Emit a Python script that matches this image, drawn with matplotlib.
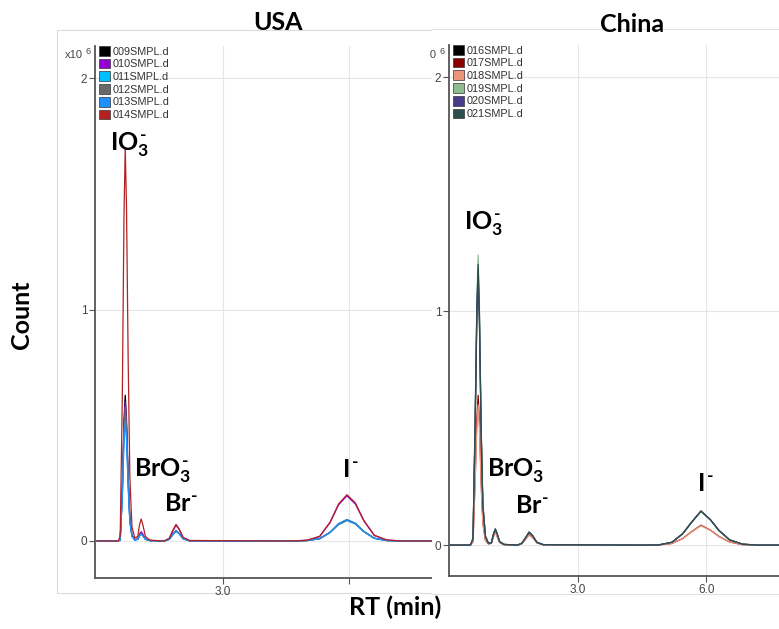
import matplotlib
matplotlib.use("Agg")
import matplotlib.pyplot as plt
from matplotlib.patches import Patch, Rectangle
from matplotlib.lines import Line2D
from matplotlib.transforms import Bbox, TransformedBbox

plt.rcParams['mathtext.fontset'] = 'custom'
plt.rcParams['mathtext.rm'] = 'Lato:bold'
plt.rcParams['mathtext.bf'] = 'Lato:bold'
plt.rcParams['mathtext.it'] = 'Lato:bold'
plt.rcParams['font.family'] = ['Liberation Sans', 'DejaVu Sans']

# ***** USA samples (counts in x10^6) *****#
rt_usa = [0.00, 0.50, 0.55, 0.60, 0.64, 0.67, 0.70, 0.74, 0.78, 0.83, 0.90, 0.97, 1.01, 1.05,
          1.09, 1.15, 1.25, 1.60, 1.72, 1.80, 1.88, 1.96, 2.05, 2.20, 4.60, 5.00, 5.30, 5.55,
          5.75, 5.95, 6.15, 6.35, 6.60, 6.90, 7.30, 8.00]
usa_names = ['009SMPL.d', '010SMPL.d', '011SMPL.d', '012SMPL.d', '013SMPL.d', '014SMPL.d']
usa_colors = ['#000000', '#9400D3', '#00BFFF', '#696969', '#1E90FF', '#B22222']
s009 = [0, 0, 0.005, 0.22, 0.52, 0.63, 0.53, 0.28, 0.10, 0.025, 0.005, 0.008, 0.025, 0.035, 0.025, 0.008,
        0.002, 0, 0.008, 0.028, 0.045, 0.032, 0.010, 0.001, 0, 0.002, 0.010, 0.038, 0.074, 0.092, 0.076,
        0.042, 0.012, 0.002, 0, 0]
s010 = [0, 0, 0.005, 0.21, 0.50, 0.60, 0.50, 0.27, 0.09, 0.022, 0.005, 0.009, 0.030, 0.040, 0.030, 0.009,
        0.002, 0, 0.011, 0.042, 0.068, 0.048, 0.014, 0.002, 0, 0.003, 0.019, 0.080, 0.156, 0.195, 0.160,
        0.088, 0.024, 0.004, 0, 0]
s011 = [0, 0, 0.004, 0.19, 0.45, 0.55, 0.46, 0.24, 0.085, 0.020, 0.004, 0.007, 0.022, 0.030, 0.022, 0.007,
        0.002, 0, 0.007, 0.026, 0.042, 0.030, 0.009, 0.001, 0, 0.002, 0.009, 0.036, 0.070, 0.088, 0.073,
        0.040, 0.011, 0.002, 0, 0]
s012 = [0, 0, 0.004, 0.20, 0.48, 0.58, 0.49, 0.26, 0.09, 0.022, 0.005, 0.008, 0.024, 0.033, 0.024, 0.008,
        0.002, 0, 0.008, 0.027, 0.044, 0.031, 0.010, 0.001, 0, 0.002, 0.010, 0.037, 0.072, 0.090, 0.075,
        0.041, 0.012, 0.002, 0, 0]
s013 = [0, 0, 0.004, 0.18, 0.43, 0.52, 0.44, 0.23, 0.08, 0.020, 0.004, 0.007, 0.022, 0.030, 0.022, 0.007,
        0.002, 0, 0.007, 0.027, 0.043, 0.030, 0.009, 0.001, 0, 0.002, 0.010, 0.038, 0.075, 0.093, 0.077,
        0.042, 0.012, 0.002, 0, 0]
s014 = [0, 0, 0.020, 0.62, 1.40, 1.70, 1.45, 0.78, 0.28, 0.060, 0.012, 0.020, 0.070, 0.095, 0.070, 0.020,
        0.004, 0, 0.012, 0.045, 0.072, 0.050, 0.015, 0.002, 0, 0.003, 0.020, 0.082, 0.160, 0.200, 0.165,
        0.090, 0.025, 0.004, 0, 0]

# ***** China samples *****#
rt_chn = [0.00, 0.50, 0.56, 0.61, 0.65, 0.68, 0.71, 0.75, 0.79, 0.85, 0.92, 0.99, 1.04, 1.08,
          1.12, 1.18, 1.28, 1.60, 1.70, 1.79, 1.87, 1.95, 2.05, 2.20, 4.50, 4.90, 5.20, 5.45,
          5.65, 5.88, 6.10, 6.30, 6.55, 6.85, 7.20, 7.70]
chn_names = ['016SMPL.d', '017SMPL.d', '018SMPL.d', '019SMPL.d', '020SMPL.d', '021SMPL.d']
chn_colors = ['#000000', '#8B0000', '#E9967A', '#8FBC8F', '#483D8B', '#2F4F4F']
s016 = [0, 0, 0.025, 0.50, 0.97, 1.15, 0.95, 0.48, 0.17, 0.035, 0.008, 0.010, 0.048, 0.068, 0.050, 0.015,
        0.003, 0, 0.008, 0.032, 0.055, 0.040, 0.012, 0.002, 0, 0.001, 0.012, 0.048, 0.095, 0.145, 0.108,
        0.062, 0.022, 0.004, 0, 0]
s017 = [0, 0, 0.015, 0.28, 0.54, 0.64, 0.53, 0.27, 0.095, 0.020, 0.005, 0.008, 0.038, 0.055, 0.040, 0.012,
        0.002, 0, 0.006, 0.026, 0.045, 0.033, 0.010, 0.001, 0, 0.001, 0.007, 0.028, 0.056, 0.085, 0.064,
        0.037, 0.013, 0.002, 0, 0]
s018 = [0, 0, 0.013, 0.26, 0.50, 0.60, 0.50, 0.25, 0.09, 0.019, 0.005, 0.008, 0.037, 0.053, 0.039, 0.012,
        0.002, 0, 0.006, 0.025, 0.044, 0.032, 0.010, 0.001, 0, 0.001, 0.007, 0.027, 0.055, 0.083, 0.063,
        0.036, 0.013, 0.002, 0, 0]
s019 = [0, 0, 0.030, 0.55, 1.05, 1.24, 1.02, 0.52, 0.18, 0.040, 0.008, 0.010, 0.048, 0.068, 0.050, 0.015,
        0.003, 0, 0.008, 0.032, 0.055, 0.040, 0.012, 0.002, 0, 0.001, 0.012, 0.047, 0.094, 0.143, 0.107,
        0.061, 0.022, 0.004, 0, 0]
s020 = [0, 0, 0.028, 0.52, 1.00, 1.18, 0.97, 0.49, 0.17, 0.037, 0.008, 0.010, 0.049, 0.069, 0.051, 0.015,
        0.003, 0, 0.008, 0.033, 0.056, 0.041, 0.012, 0.002, 0, 0.001, 0.012, 0.048, 0.096, 0.146, 0.109,
        0.063, 0.022, 0.004, 0, 0]
s021 = [0, 0, 0.028, 0.53, 1.02, 1.20, 0.99, 0.50, 0.17, 0.038, 0.008, 0.010, 0.048, 0.068, 0.050, 0.015,
        0.003, 0, 0.008, 0.032, 0.055, 0.040, 0.012, 0.002, 0, 0.001, 0.012, 0.048, 0.095, 0.145, 0.108,
        0.062, 0.022, 0.004, 0, 0]

W, H = 779, 629
fig = plt.figure(figsize=(W / 100, H / 100), dpi=100)


def fx(x):
    return x / W


def fy(y):
    return 1 - y / H


def style_axes(ax, xlim, ylim, xlabels):
    ax.set_xlim(xlim)
    ax.set_ylim(ylim)
    ax.set_xticks([3, 6])
    ax.set_xticklabels(xlabels)
    ax.set_yticks([0, 1, 2])
    ax.set_yticklabels(['0', '1', '2'])
    ax.grid(True, color='#e6e6e6', lw=0.8)
    ax.set_axisbelow(True)
    for s in ['top', 'right']:
        ax.spines[s].set_visible(False)
    for s in ['left', 'bottom']:
        ax.spines[s].set_color('#555555')
        ax.spines[s].set_linewidth(1.3)
    ax.tick_params(length=4, width=0.8, color='#555555', labelsize=8.5, labelcolor='#444444', pad=1.5)
    ax.patch.set_visible(False)


def add_legend(ax, names, colors):
    handles = [Patch(facecolor=c, edgecolor='#333333', lw=0.5) for c in colors]
    ax.legend(handles, names, loc='upper left', bbox_to_anchor=(0.012, 1.0), frameon=False,
              fontsize=7.8, handlelength=1.0, handleheight=1.0, handletextpad=0.25,
              labelspacing=0.2, borderaxespad=0, borderpad=0, labelcolor='#333333')


def ion_labels(ax, items):
    for x, y, s in items:
        ax.text(x, y, s, ha='left', va='baseline', fontsize=18, zorder=5)


# panel frame (left) and white backdrop of the right screenshot
fig.patches.append(Rectangle((fx(57), fy(593)), fx(520), 563 / H, transform=fig.transFigure,
                             fill=False, ec='#dcdcdc', lw=0.8, zorder=-1))
fig.patches.append(Rectangle((fx(432), fy(594)), fx(W - 432), 565 / H, transform=fig.transFigure,
                             fc='white', ec='none', zorder=1))
for yy in [29, 594]:
    fig.lines.append(Line2D([fx(432), 1], [fy(yy), fy(yy)], transform=fig.transFigure,
                            color='#e2e2e2', lw=0.8, zorder=1.5))

# USA panel (its 6.0 label sits under the axis title in the source, so only the tick shows)
ax1 = fig.add_axes([fx(95), fy(578), 338 / W, 532 / H], zorder=0)
style_axes(ax1, (-0.05, 8.0), (-0.16, 2.14), ['3.0', ''])
for vals, c in zip([s009, s010, s011, s012, s013, s014], usa_colors):
    ax1.plot(rt_usa, vals, color=c, lw=0.9)
add_legend(ax1, usa_names, usa_colors)
ion_labels(ax1, [(0.31, 1.69, r'$IO_3^{\text{-}}$'), (0.88, 0.28, r'$BrO_3^{\text{-}}$'),
                 (1.60, 0.13, r'$Br^{\text{-}}$'), (5.83, 0.277, r'$I^{\text{-}}$')])

# China panel
ax2 = fig.add_axes([fx(449), fy(576), 330 / W, 531 / H], zorder=2)
style_axes(ax2, (0.0, 7.7), (-0.132, 2.137), ['3.0', '6.0'])
for vals, c in zip([s016, s017, s018, s019, s020, s021], chn_colors):
    ax2.plot(rt_chn, vals, color=c, lw=0.9)
add_legend(ax2, chn_names, chn_colors)
ion_labels(ax2, [(0.35, 1.35, r'$IO_3^{\text{-}}$'), (0.89, 0.295, r'$BrO_3^{\text{-}}$'),
                 (1.54, 0.137, r'$Br^{\text{-}}$'), (5.79, 0.23, r'$I^{\text{-}}$')])

# x10^6 multipliers
fig.text(fx(65), fy(58), 'x10', fontsize=8, color='#444444')
fig.text(fx(85), fy(54), '6', fontsize=6.5, color='#444444')
clip = TransformedBbox(Bbox([[fx(430), 0], [1, 1]]), fig.transFigure)
for t in [fig.text(fx(419), fy(58), 'x10', fontsize=8, color='#444444', zorder=3),
          fig.text(fx(439), fy(54), '6', fontsize=6.5, color='#444444', zorder=3)]:
    t.set_clip_box(clip)
    t.set_clip_on(True)

# titles and axis labels
fig.text(fx(278), fy(22), 'USA', ha='center', va='center', fontsize=18, weight='bold', family='Lato')
fig.text(fx(632), fy(25), 'China', ha='center', va='center', fontsize=18, weight='bold', family='Lato')
fig.text(fx(22), fy(315), 'Count', ha='center', va='center', rotation=90, fontsize=18, weight='bold',
         family='Lato')
fig.text(fx(395), fy(607), 'RT (min)', ha='center', va='center', fontsize=18, weight='bold', family='Lato')

fig.savefig('out.png', dpi=100)
